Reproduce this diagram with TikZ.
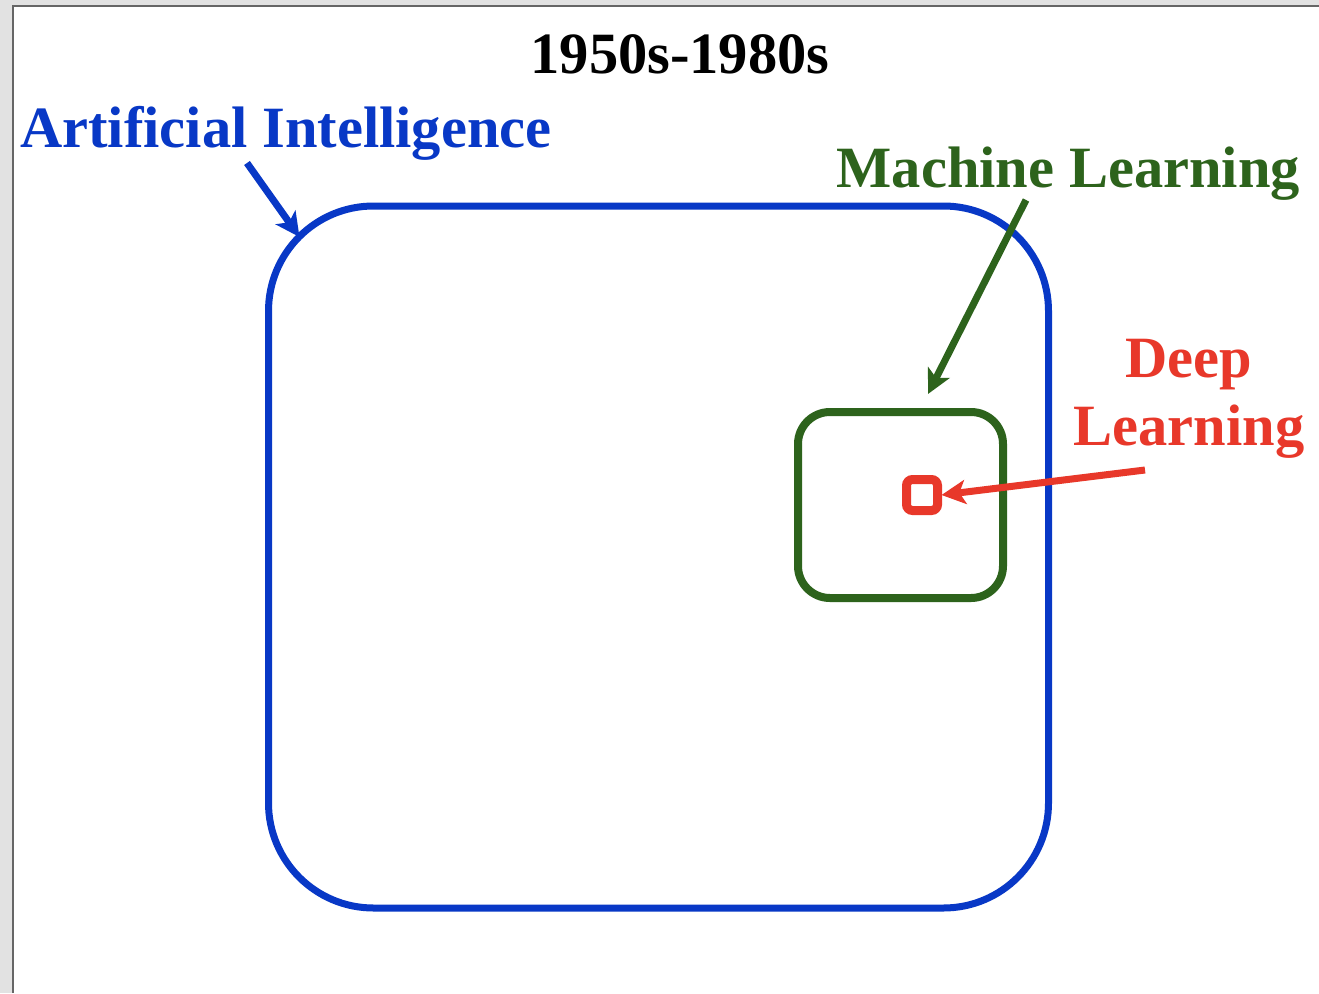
\documentclass[tikz,border=0pt]{standalone}
\usepackage{fontspec}
\setmainfont{Liberation Serif}
\usetikzlibrary{arrows.meta}
\definecolor{aiblue}{RGB}{8,56,198}
\definecolor{mlgreen}{RGB}{45,99,28}
\definecolor{dlred}{RGB}{232,56,42}
\definecolor{bggray}{RGB}{226,226,226}
\tikzset{
  boxline/.style={draw, inner sep=0pt, outer sep=0pt, fill=none},
  pointer/.style={line width=7pt, -{Stealth[length=24pt,width=24pt,inset=6pt]}},
  lbl/.style={inner sep=0pt, anchor=base, font=\bfseries\fontsize{58.5}{58.5}\selectfont}
}
\begin{document}
\begin{tikzpicture}[x=1pt,y=-1pt]
\useasboundingbox (0,0) rectangle (1319,993);
\fill[bggray] (0,0) rectangle (1319,993);
\fill[white] (13,6) rectangle (1319,993);
\draw[gray!80!black, line width=1.2pt] (13,993) -- (13,6) -- (1319,6);
% boxes
\node[boxline, draw=aiblue, line width=7pt, rounded corners=105pt, minimum width=780pt, minimum height=702pt] (aibox) at (658.5,557) {};
\node[boxline, draw=mlgreen, line width=8pt, rounded corners=32pt, minimum width=205pt, minimum height=186pt] (mlbox) at (900.5,505) {};
\node[boxline, draw=dlred, line width=9pt, rounded corners=6pt, minimum width=31pt, minimum height=31pt] (dlbox) at (922,495) {};
% labels
\node[lbl] (title) at (680,73) {1950s-1980s};
\node[lbl, anchor=base west, text=aiblue] (ailabel) at (20,147) {Artificial Intelligence};
\node[lbl, anchor=base east, text=mlgreen] (mllabel) at (1300,187) {Machine Learning};
\node[lbl, text=dlred] (dllabel1) at (1189,377) {Deep};
\node[lbl, text=dlred] (dllabel2) at (1189,445) {Learning};
% arrows
\coordinate (aitail) at (247,163);
\coordinate (mltail) at (1026,200);
\coordinate (dltail) at (1145,470);
\draw[pointer, aiblue] (aitail) -- ([xshift=31pt,yshift=-31pt]aibox.north west);
\draw[pointer, mlgreen] (mltail) -- ([xshift=27.5pt,yshift=18pt]mlbox.north);
\draw[pointer, dlred] (dltail) -- ([xshift=4pt]dlbox.east);
\end{tikzpicture}
\end{document}
